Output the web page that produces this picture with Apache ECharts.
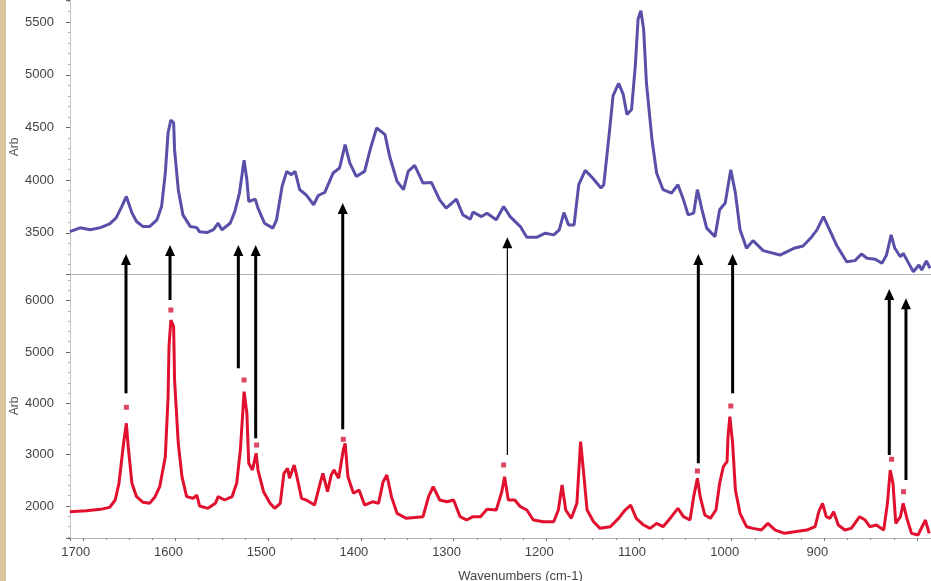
<!DOCTYPE html>
<html><head><meta charset="utf-8">
<script src="https://cdn.jsdelivr.net/npm/echarts@6/dist/echarts.min.js"></script>
<style>
html,body{margin:0;padding:0;background:#fff;overflow:hidden;}
#chart{width:931px;height:581px;}
</style></head><body>
<div id="chart"></div>
<script>
// ---------- DATA ----------
const blueWn  = [1714,1703,1692,1681,1671,1664,1658,1653,1647,1642,1635,1628,1620,1615,1611,1608,1605,1602,1601,1597,1592,1584,1577,1574,1566,1559,1554,1550,1541,1536,1531,1526,1523,1521,1514,1511,1504,1495,1491,1485,1480,1475,1471,1466,1459,1451,1446,1439,1430,1423,1417,1412,1405,1396,1390,1383,1374,1369,1361,1354,1349,1342,1333,1324,1315,1308,1297,1290,1282,1279,1270,1264,1254,1246,1239,1228,1221,1210,1201,1192,1186,1181,1176,1170,1165,1158,1150,1141,1138,1132,1128,1122,1117,1113,1108,1104,1101,1098,1095,1092,1086,1081,1074,1065,1058,1052,1047,1041,1037,1032,1027,1018,1013,1007,1001,996,991,984,977,966,948,933,923,914,908,901,896,887,876,867,860,854,845,838,833,828,824,818,815,809,804,798,795,790,786];
const blueArb = [3512,3548,3530,3550,3586,3643,3750,3846,3690,3608,3560,3560,3624,3750,4068,4450,4570,4545,4290,3910,3671,3560,3550,3510,3503,3530,3592,3530,3592,3703,3878,4189,4005,3798,3820,3735,3592,3545,3624,3941,4084,4052,4084,3910,3860,3767,3855,3884,4068,4116,4338,4164,4036,4084,4290,4497,4433,4227,3989,3910,4084,4141,3973,3979,3814,3735,3820,3671,3630,3697,3655,3687,3624,3750,3655,3560,3459,3459,3497,3481,3529,3693,3576,3576,3957,4093,4021,3926,3957,4450,4800,4920,4814,4624,4671,5084,5529,5608,5433,4926,4386,4069,3910,3878,3957,3814,3671,3688,3910,3719,3545,3465,3719,3783,4100,3878,3529,3354,3427,3332,3290,3354,3376,3459,3529,3655,3560,3386,3227,3237,3300,3259,3250,3211,3290,3481,3354,3274,3306,3211,3131,3195,3148,3233,3164];

const redWn  = [1714,1696,1681,1671,1665,1661,1656,1653,1651,1647,1642,1635,1628,1622,1617,1611,1608,1607,1605,1602,1601,1597,1593,1588,1581,1577,1574,1565,1557,1554,1547,1539,1534,1530,1526,1523,1521,1517,1513,1511,1505,1498,1493,1487,1483,1479,1477,1472,1469,1464,1459,1450,1444,1441,1436,1432,1429,1424,1419,1417,1414,1408,1402,1396,1387,1381,1376,1372,1367,1361,1351,1333,1327,1322,1315,1307,1300,1293,1286,1279,1271,1264,1254,1248,1245,1241,1234,1228,1221,1214,1203,1192,1187,1183,1179,1173,1167,1164,1163,1160,1156,1149,1142,1131,1122,1115,1109,1103,1095,1088,1081,1074,1065,1058,1052,1045,1041,1037,1034,1029,1023,1017,1013,1009,1005,1004,1002,999,996,991,984,977,968,961,953,943,932,919,910,906,902,898,894,890,885,878,871,862,856,851,844,836,832,829,826,823,818,815,811,806,799,791,787];
const redArb = [1889,1909,1935,1974,2117,2442,3221,3611,3155,2442,2182,2072,2052,2182,2376,2960,4129,5103,5623,5493,4455,3221,2571,2182,2150,2214,2000,1955,2052,2182,2117,2182,2442,3091,4227,3806,2832,2701,3027,2701,2279,2052,1955,2052,2637,2734,2540,2799,2571,2150,2117,2019,2442,2637,2279,2604,2701,2540,3091,3221,2571,2247,2312,2019,2084,2052,2474,2604,2182,1857,1760,1792,2182,2376,2117,2084,2117,1792,1727,1792,1792,1935,1922,2279,2571,2117,2117,1987,1922,1727,1694,1694,1922,2409,1922,1760,2052,2960,3253,2701,1922,1694,1565,1597,1760,1922,2019,1760,1630,1565,1662,1597,1792,1955,1792,1727,2182,2540,2182,1825,1760,1922,2442,2766,2864,3351,3740,3221,2312,1857,1597,1565,1532,1662,1532,1468,1500,1532,1597,1889,2052,1792,1760,1889,1630,1532,1565,1792,1727,1597,1630,1532,2052,2701,2442,1662,1792,2052,1760,1468,1435,1727,1468];

// red peak markers
const markerWn  = [1653,1605,1526,1512.5,1419,1246,1037,1001,827.5,814.6];
const markerArb = [3923,5818,4455,3188,3299,2799,2682,3948,2910,2279];

// arrows: tail on red spectrum panel (panel 1), head on blue panel (0) or red panel (1)
const arrowWn       = [1653.4,1605.9,1532.2,1513.5,1419.6,1242,1036,999,830,812];
const arrowTailArb  = [4195,6013,4682,3319,3494,2993,2832,4195,2993,2506];
const arrowHeadArb  = [3300,3386,3386,3386,3783,3459,3300,3300,6227,6046];
const arrowHeadPanel= [0,0,0,0,0,0,0,0,1,1];

const yTicksTop = [3500,4000,4500,5000,5500];
const yTicksBottom = [2000,3000,4000,5000,6000];
const xTickLabels = [1700,1600,1500,1400,1300,1200,1100,1000,900];

// ---------- CHART ----------
const FONT = "'Liberation Sans', Arial, sans-serif";
const BLUE = '#5850a8', RED = '#e0102e';
const chart = echarts.init(document.getElementById('chart'), null, {renderer:'canvas'});

function yAxisCfg(grid, min, max, ticks, namePad){
  return {
    type:'value', gridIndex:grid, min:min, max:max, splitNumber:5,
    name:'Arb', nameLocation:'middle', nameGap:49, nameRotate:90, nameMoveOverlap:false,
    nameTextStyle:{fontFamily:FONT, fontSize:12, color:'#555', padding:namePad},
    axisLine:{show:true, lineStyle:{color:'#c4c4c4', width:1}},
    axisTick:{show:true, length:4, lineStyle:{color:'#666'}},
    minorTick:{show:true, splitNumber:5, length:2, lineStyle:{color:'#aaa'}},
    splitLine:{show:false},
    axisLabel:{fontFamily:FONT, fontSize:13, color:'#444', margin:16,
      showMinLabel:false, showMaxLabel:false,
      formatter:function(v){ return ticks.indexOf(v) >= 0 ? String(v) : ''; }}
  };
}

const option = {
  animation:false,
  backgroundColor:'#ffffff',
  grid:[
    {left:70, right:0, top:0, height:274, containLabel:false, outerBoundsMode:'none'},
    {left:70, right:0, top:274, height:264, containLabel:false, outerBoundsMode:'none'}
  ],
  xAxis:[
    {type:'value', gridIndex:0, min:785, max:1713.8, inverse:true, splitNumber:10,
     axisLine:{show:true, onZero:false, lineStyle:{color:'#b4b4b4', width:1}},
     axisTick:{show:false}, axisLabel:{show:false}, splitLine:{show:false}},
    {type:'value', gridIndex:1, min:785, max:1713.8, inverse:true, splitNumber:10,
     name:'Wavenumbers (cm-1)', nameLocation:'middle', nameGap:32, nameMoveOverlap:false,
     nameTextStyle:{fontFamily:FONT, fontSize:13, color:'#444', padding:[0,0,0,40]},
     axisLine:{show:true, onZero:false, lineStyle:{color:'#b4b4b4', width:1}},
     axisTick:{show:true, length:3, inside:false, lineStyle:{color:'#777'}},
     minorTick:{show:true, splitNumber:4, length:2, lineStyle:{color:'#888'}},
     splitLine:{show:false},
     axisLabel:{fontFamily:FONT, fontSize:13, color:'#444', margin:8, padding:[0,14,0,0],
       interval:0, hideOverlap:false, showMinLabel:false, showMaxLabel:false,
       formatter:function(v){ return xTickLabels.indexOf(v) >= 0 ? String(v) : ''; }}}
  ],
  yAxis:[
    yAxisCfg(0, 3110, 5710, yTicksTop, [0,20,0,0]),
    yAxisCfg(1, 1377, 6519, yTicksBottom, [0,0,0,0])
  ],
  series:[
    {type:'line', xAxisIndex:0, yAxisIndex:0, showSymbol:false, symbol:'none',
     data: blueWn.map((w,i)=>[w, blueArb[i]]),
     lineStyle:{color:BLUE, width:3}, itemStyle:{color:BLUE}, z:3},
    {type:'line', xAxisIndex:1, yAxisIndex:1, showSymbol:false, symbol:'none',
     data: redWn.map((w,i)=>[w, redArb[i]]),
     lineStyle:{color:RED, width:3}, itemStyle:{color:RED}, z:3},
    {type:'scatter', xAxisIndex:1, yAxisIndex:1, symbol:'rect', symbolSize:5,
     data: markerWn.map((w,i)=>[w, markerArb[i]]),
     itemStyle:{color:'#d4163c'}, z:4}
  ]
};
chart.setOption(option);

// arrows built from the axes' own scales
const arrowWidthStyle = [3,3,3,3,3,1.2,3,3,3,3];
const g = [{type:'rect', left:0, top:0, shape:{x:0,y:0,width:6,height:581}, style:{fill:'#d9c59b'}, silent:true}];
for (let i=0;i<arrowWn.length;i++){
  const p0 = chart.convertToPixel({gridIndex:1}, [arrowWn[i], arrowTailArb[i]]);
  const p1 = chart.convertToPixel({gridIndex:arrowHeadPanel[i]}, [arrowWn[i], arrowHeadArb[i]]);
  const hl = 11, hw = 5;
  g.push({type:'line', shape:{x1:p0[0], y1:p0[1], x2:p1[0], y2:p1[1]+hl-1},
          style:{stroke:'#000', lineWidth:arrowWidthStyle[i]}, z:10, silent:true});
  g.push({type:'polygon', shape:{points:[[p1[0]-hw,p1[1]+hl],[p1[0]+hw,p1[1]+hl],[p1[0],p1[1]]]},
          style:{fill:'#000'}, z:10, silent:true});
}
chart.setOption({graphic:g});
</script>
</body></html>
